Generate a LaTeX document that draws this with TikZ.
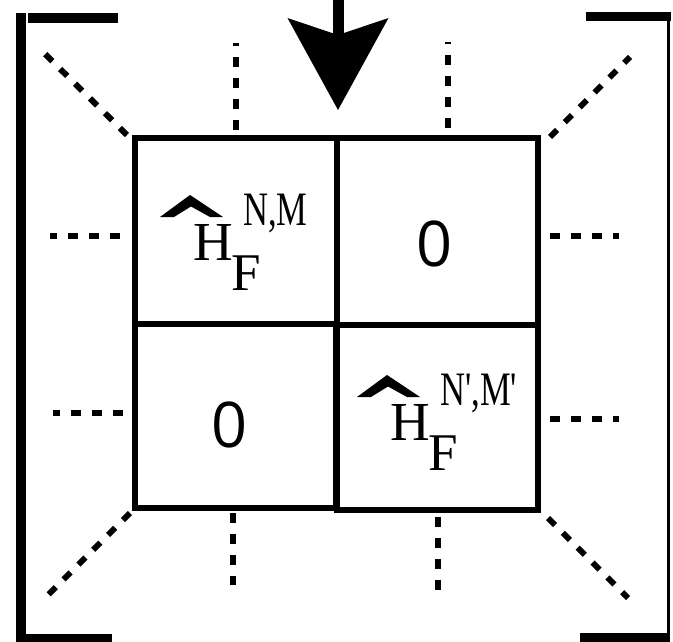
\documentclass[tikz,border=0pt]{standalone}
\usepackage{fontspec,graphicx}
\setmainfont{Liberation Serif}
\newfontfamily\zerofont{Open Sans}
\usetikzlibrary{arrows.meta}
\tikzset{
  cell/.style={draw,line width=5.5pt,inner sep=0pt},
  dsh/.style={line width=6pt,dash pattern=on 10pt off 11pt},
  brk/.style={line width=9pt},
  zro/.style={inner sep=0pt,font=\zerofont\fontsize{63}{63}\selectfont},
  glyph/.style={anchor=base west,inner sep=0pt,font=\fontsize{55}{55}\selectfont},
  idx/.style={anchor=base west,inner sep=0pt,font=\fontsize{48}{48}\selectfont},
  intoarr/.style={line width=11pt,-{Stealth[length=92pt,width=101pt,inset=17pt,line width=0pt]}},
}
% hat H_F with superscript: x, y, superscript, name
\newcommand{\hatlabel}[4]{%
  \begin{scope}[shift={(#1,#2)}]
    \fill (0,22) -- (30,0) -- (63,22) -- (50,22) -- (31,11.5) -- (14,22) -- cycle;
    \node[glyph] (#4h) at (33,65) {H};
    \node[glyph,font=\fontsize{53}{53}\selectfont] (#4f) at (71,95) {F};
    \node[idx] (#4s) at (83,30) {\scalebox{0.72}[1]{#3}};
  \end{scope}}

\begin{document}
\begin{tikzpicture}[x=1pt,y=-1pt]
\useasboundingbox (0,0) rectangle (673,642);

% block matrix
\node[cell,minimum width=202pt,minimum height=186pt] (tl) at (236,231) {};
\node[cell,minimum width=201pt,minimum height=187pt] (tr) at (437.5,231.5) {};
\node[cell,minimum width=201pt,minimum height=184pt] (bl) at (235.5,416) {};
\node[cell,minimum width=201pt,minimum height=185pt] (br) at (437.5,417.5) {};

\hatlabel{160}{195}{N,M}{a}
\hatlabel{357}{375}{N\textquotesingle,M\textquotesingle}{b}
\node[zro] (z1) at (435,244) {0};
\node[zro] (z2) at (230,425) {0};

% arrow
\coordinate (src) at (338,0);
\coordinate (aim) at (338,110);
\draw[intoarr] (src) -- (aim);

% dots round the blocks
\draw[dsh] (127,135) -- (43,52);
\draw[dsh] (550,137) -- (630,57);
\draw[dsh] (130,513) -- (48,595);
\draw[dsh] (548,518) -- (628,598);
\draw[dsh] (236,130) -- (236,43);
\draw[dsh] (448,128) -- (448,42);
\draw[dsh] (120,236) -- (50,236);
\draw[dsh] (123,413) -- (53,413);
\draw[dsh] (550,236) -- (619,236);
\draw[dsh] (550,419) -- (619,419);
\draw[dsh] (233,513) -- (233,585);
\draw[dsh] (438,517) -- (438,590);

% brackets
\draw[line width=10pt] (21,13) -- (21,642);
\draw[line width=10pt] (28,18) -- (118,18);
\draw[line width=8pt] (16,638) -- (112,638);
\draw[line width=3pt] (668,12) -- (668,642);
\draw[brk] (586,16.5) -- (671,16.5);
\draw[brk] (580,637.5) -- (670,637.5);
\end{tikzpicture}
\end{document}
